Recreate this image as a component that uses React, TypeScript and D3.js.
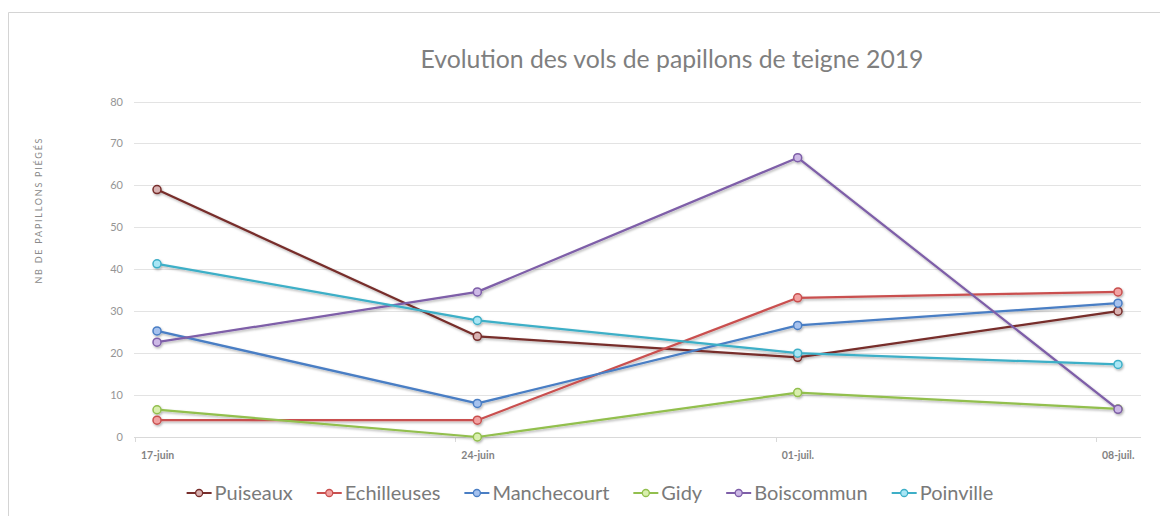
import { useEffect, useRef } from 'react';
import * as d3 from 'd3';

const dates = ['17-juin', '24-juin', '01-juil.', '08-juil.'];
const seriesNames = ['Puiseaux', 'Echilleuses', 'Manchecourt', 'Gidy', 'Boiscommun', 'Poinville'];
const puiseaux = [59, 24, 19, 30];
const echilleuses = [4, 4, 33.2, 34.6];
const manchecourt = [25.3, 8, 26.6, 31.9];
const gidy = [6.5, 0, 10.6, 6.7];
const boiscommun = [22.6, 34.6, 66.6, 6.6];
const poinville = [41.3, 27.8, 20, 17.3];
const yTicks = [0, 10, 20, 30, 40, 50, 60, 70, 80];

const lineColors = ['#772d2b', '#c9504f', '#4a7ec4', '#92bf4e', '#7e5ea8', '#3eafc7'];
const fillColors = ['#d9b3b3', '#f2a3a3', '#a6c2ee', '#d9efae', '#cdb9e6', '#a9e6f5'];

const W = 1160;
const H = 516;
const FONT = 'Lato, "Open Sans", sans-serif';

function App() {
  const ref = useRef<HTMLDivElement>(null);

  useEffect(() => {
    const root = d3.select(ref.current);
    root.selectAll('*').remove();
    const svg = root.append('svg').attr('width', W).attr('height', H).style('display', 'block');

    const defs = svg.append('defs');
    const f = defs.append('filter').attr('id', 'shadow').attr('x', '-10%').attr('y', '-10%').attr('width', '120%').attr('height', '130%');
    f.append('feDropShadow').attr('dx', 1).attr('dy', 1.5).attr('stdDeviation', 1).attr('flood-color', '#000').attr('flood-opacity', 0.3);

    svg.append('rect').attr('width', W).attr('height', H).attr('fill', '#fff');
    // frame
    svg.append('line').attr('x1', 8.5).attr('x2', W).attr('y1', 12.5).attr('y2', 12.5).attr('stroke', '#d4d4d4');
    svg.append('line').attr('x1', 8.5).attr('x2', 8.5).attr('y1', 12.5).attr('y2', H).attr('stroke', '#d4d4d4');

    const x = d3.scaleLinear().domain([0, dates.length - 1]).range([157, 1118]);
    const y = d3.scaleLinear().domain([0, 80]).range([437, 101.5]);
    const plotLeft = 134;
    const plotRight = 1141;
    const tickShift = -22;

    // title
    svg.append('text')
      .attr('x', 672).attr('y', 68)
      .attr('text-anchor', 'middle')
      .attr('font-family', FONT).attr('font-size', 25)
      .attr('fill', '#7f7f7f')
      .attr('textLength', 503).attr('lengthAdjust', 'spacingAndGlyphs')
      .text('Evolution des vols de papillons de teigne 2019');

    // grid
    svg.append('g').selectAll('line').data(yTicks.filter(d => d > 0)).join('line')
      .attr('x1', plotLeft).attr('x2', plotRight)
      .attr('y1', d => Math.round(y(d)) + 0.5).attr('y2', d => Math.round(y(d)) + 0.5)
      .attr('stroke', '#e3e3e3');
    svg.append('line')
      .attr('x1', plotLeft).attr('x2', plotRight)
      .attr('y1', Math.round(y(0)) + 0.5).attr('y2', Math.round(y(0)) + 0.5)
      .attr('stroke', '#d9d9d9').attr('stroke-width', 1.2);

    svg.append('g').selectAll('text').data(yTicks).join('text')
      .attr('x', 123).attr('y', d => y(d) + 4)
      .attr('text-anchor', 'end')
      .attr('font-family', FONT).attr('font-size', 11)
      .attr('fill', '#959595')
      .text(d => d);

    // y title
    svg.append('text')
      .attr('transform', 'translate(42,211) rotate(-90)')
      .attr('text-anchor', 'middle')
      .attr('font-family', FONT).attr('font-size', 9)
      .attr('fill', '#8a8a8a')
      .attr('textLength', 145)
      .text('NB  DE PAPILLONS PIÉGÉS');

    // x ticks + labels
    svg.append('g').selectAll('line').data(dates).join('line')
      .attr('x1', (_, i) => Math.round(x(i) + tickShift) + 0.5)
      .attr('x2', (_, i) => Math.round(x(i) + tickShift) + 0.5)
      .attr('y1', y(0)).attr('y2', y(0) + 5)
      .attr('stroke', '#d9d9d9');
    svg.append('g').selectAll('text').data(dates).join('text')
      .attr('x', (_, i) => x(i) + tickShift + 6)
      .attr('y', 459)
      .attr('font-family', FONT).attr('font-size', 10.5).attr('font-weight', 'bold')
      .attr('fill', '#838383')
      .text(d => d);

    const allSeries = [puiseaux, echilleuses, manchecourt, gidy, boiscommun, poinville];
    const line = d3.line<number>().x((_, i) => x(i)).y(d => y(d));

    const gSeries = svg.append('g').attr('filter', 'url(#shadow)');
    allSeries.forEach((vals, s) => {
      const g = gSeries.append('g');
      g.append('path').attr('d', line(vals))
        .attr('fill', 'none').attr('stroke', lineColors[s]).attr('stroke-width', 2.25)
        .attr('stroke-linejoin', 'round');
      g.selectAll('circle').data(vals).join('circle')
        .attr('cx', (_, i) => x(i)).attr('cy', d => y(d)).attr('r', 4)
        .attr('fill', fillColors[s]).attr('stroke', lineColors[s]).attr('stroke-width', 1.5);
    });

    // legend
    const legend = svg.append('g');
    const items: { g: any; w: number }[] = [];
    seriesNames.forEach((name, s) => {
      const g = legend.append('g');
      g.append('line').attr('x1', 0).attr('x2', 25).attr('y1', 0).attr('y2', 0)
        .attr('stroke', lineColors[s]).attr('stroke-width', 2);
      g.append('circle').attr('cx', 12.5).attr('cy', 0).attr('r', 3.5)
        .attr('fill', fillColors[s]).attr('stroke', lineColors[s]).attr('stroke-width', 1.3);
      const t = g.append('text').attr('x', 28).attr('y', 7)
        .attr('font-family', FONT).attr('font-size', 20)
        .attr('fill', '#7a7a7a').text(name);
      const node = t.node() as SVGTextElement;
      const w = 28 + (node ? node.getComputedTextLength() : name.length * 10);
      items.push({ g, w });
    });
    const gap = 24;
    const total = d3.sum(items, d => d.w) + gap * (items.length - 1);
    let cx = 590 - total / 2;
    items.forEach(it => {
      it.g.attr('transform', `translate(${cx},493)`);
      cx += it.w + gap;
    });
  }, []);

  return <div ref={ref} style={{ position: 'absolute', left: 0, top: 0 }} />;
}

export default App;
